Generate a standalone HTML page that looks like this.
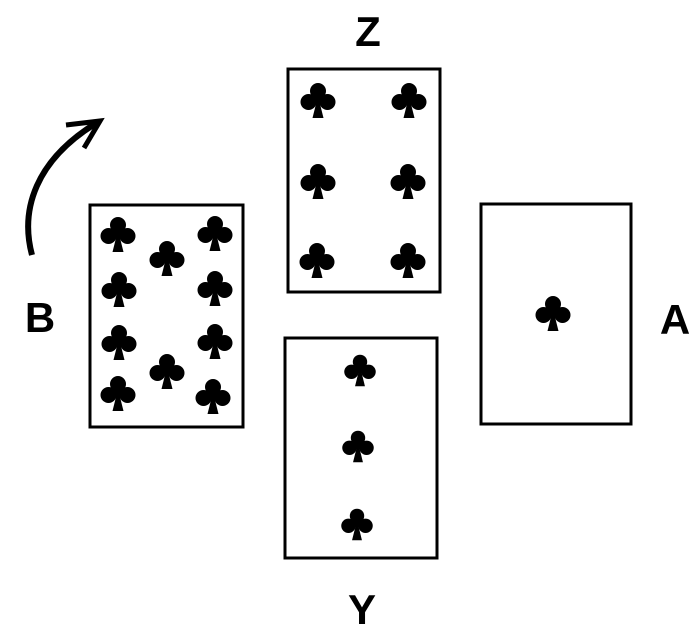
<!DOCTYPE html><html><head><style>body{margin:0;background:#fff;width:700px;height:633px;overflow:hidden}</style></head><body>
<svg width="700" height="633" viewBox="0 0 700 633" xmlns="http://www.w3.org/2000/svg">
<defs><g id="c"><circle cx="0" cy="-9" r="8"/><circle cx="-9.5" cy="2" r="8"/><circle cx="9.5" cy="2" r="8"/><rect x="-4" y="-6" width="8" height="10"/><path d="M-1.5 2 L-5.5 18 L5.5 18 L1.5 2Z"/></g></defs>
<g fill="none" stroke="#000" stroke-width="3">
<rect x="90" y="205" width="153" height="222"/>
<rect x="288" y="69" width="152" height="223"/>
<rect x="481" y="204" width="150" height="220"/>
<rect x="285" y="338" width="152" height="220"/>
<path d="M32 255 C20 210 35 160 98 122" stroke-width="6"/>
<path d="M66 125 L100 121 L84 148" stroke-width="5"/>
</g>
<g fill="#000">
<use href="#c" x="118" y="234"/><use href="#c" x="167" y="258"/><use href="#c" x="215" y="233"/>
<use href="#c" x="119" y="289"/><use href="#c" x="215" y="288"/>
<use href="#c" x="119" y="342"/><use href="#c" x="215" y="341"/>
<use href="#c" x="118" y="393"/><use href="#c" x="167" y="371"/><use href="#c" x="213" y="396"/>
<use href="#c" x="318" y="100"/><use href="#c" x="409" y="100"/>
<use href="#c" x="318" y="181"/><use href="#c" x="408" y="181"/>
<use href="#c" x="317" y="260"/><use href="#c" x="408" y="260"/>
<g transform="translate(360 370) scale(.9)"><use href="#c"/></g>
<g transform="translate(358 446) scale(.9)"><use href="#c"/></g>
<g transform="translate(357 524) scale(.9)"><use href="#c"/></g>
<use href="#c" x="553" y="313"/>
</g>
<g font-family="Liberation Sans, sans-serif" font-weight="bold" font-size="42" text-anchor="middle">
<text x="368" y="46">Z</text><text x="40" y="332">B</text><text x="675" y="334">A</text><text x="362" y="624">Y</text>
</g>
</svg></body></html>
